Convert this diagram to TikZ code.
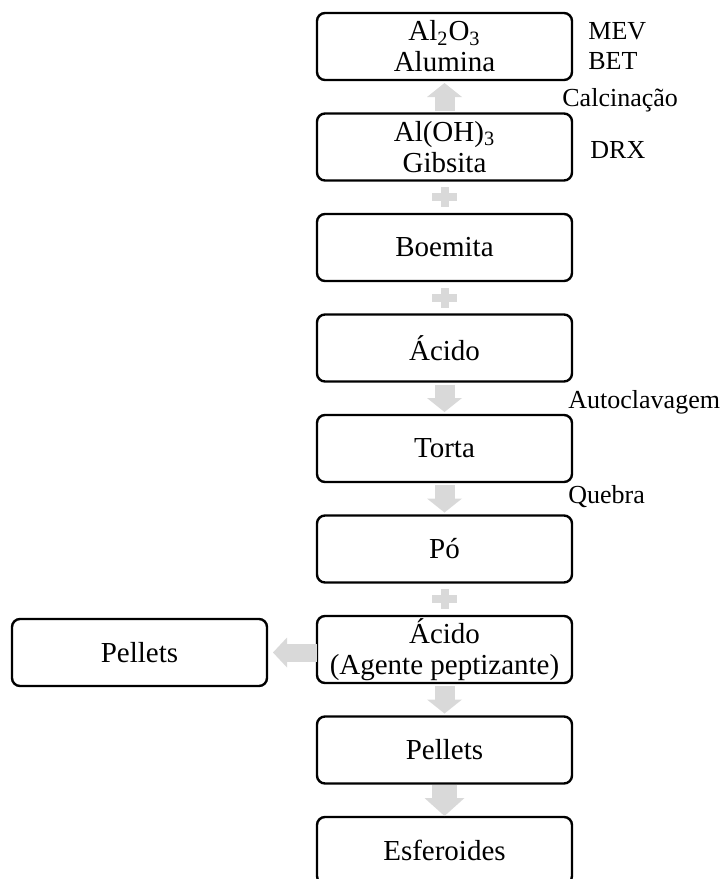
\documentclass[tikz,border=0pt]{standalone}
\usepackage{fontspec}
\setmainfont{Liberation Serif}
\usetikzlibrary{arrows.meta,positioning,calc}
\definecolor{flowgray}{HTML}{D9D9D9}

\begin{document}
\begin{tikzpicture}[node distance=16.75pt,
    box/.style={rectangle, rounded corners=4pt, draw, line width=1.2pt, outer sep=0pt, minimum width=127.5pt, minimum height=33.5pt, inner sep=1pt, align=center, font=\fontsize{14.5}{15.5}\selectfont},
    note/.style={inner sep=0pt, align=left, font=\fontsize{13}{15}\selectfont},
    flow/.style={draw=flowgray, line width=10pt, -{Triangle[length=7pt, width=17.5pt, line width=0pt]}, shorten <=1.5pt, shorten >=1.5pt},
    bigflow/.style={flow, line width=12.5pt, -{Triangle[length=9pt, width=20pt, line width=0pt]}, shorten <=0.5pt, shorten >=0.5pt},
    plussign/.pic={\fill[flowgray] (-6.25pt,-2pt) rectangle (6.25pt,2pt); \fill[flowgray] (-2pt,-5pt) rectangle (2pt,5pt);}
]
\useasboundingbox (0,0) rectangle (361pt,-439.5pt);

% Main column
\node[box] (alumina) at (222.25pt,-23.25pt) {Al\textsubscript{2}O\textsubscript{3}\\Alumina};
\node[box, below=of alumina] (gibsita) {Al(OH)\textsubscript{3}\\Gibsita};
\node[box, below=of gibsita] (boemita) {Boemita};
\node[box, below=of boemita] (acido) {Ácido};
\node[box, below=of acido] (torta) {Torta};
\node[box, below=of torta] (po) {Pó};
\node[box, below=of po] (peptizante) {Ácido\\(Agente peptizante)};
\node[box, below=of peptizante] (pellets) {Pellets};
\node[box, below=of pellets] (esferoides) {Esferoides};

% Side box
\node[box, left=25pt of peptizante, yshift=-1.5pt] (pelletsleft) {Pellets};

% Notes
\node[note, right=8pt of alumina] (mevbet) {MEV\\BET};
\node[note, right=9pt of gibsita, yshift=-1.5pt] (drx) {DRX};
\node[note, anchor=base west, xshift=-5pt, yshift=-4.75pt] (calcin) at ($(alumina.south east)!0.5!(gibsita.north east)$) {Calcinação};
\node[note, anchor=base west, xshift=-2pt, yshift=-5.25pt] (autoclav) at ($(acido.south east)!0.5!(torta.north east)$) {Autoclavagem};
\node[note, anchor=base west, xshift=-2pt, yshift=-2.25pt] (quebra) at ($(torta.south east)!0.5!(po.north east)$) {Quebra};

% Plus signs
\pic at ($(gibsita.south)!0.5!(boemita.north)$) {plussign};
\pic at ($(boemita.south)!0.5!(acido.north)$) {plussign};
\pic at ($(po.south)!0.5!(peptizante.north)$) {plussign};

% Arrows
\draw[flow] (gibsita) -- (alumina);
\draw[flow] (acido) -- (torta);
\draw[flow] (torta) -- (po);
\draw[flow] (peptizante) -- (pellets);
\draw[bigflow] (pellets) -- (esferoides);
\draw[flow, line width=9pt, -{Triangle[length=7pt, width=15pt, line width=0pt]}, shorten <=0pt, shorten >=3pt] (peptizante.west |- pelletsleft.east) -- (pelletsleft.east);

\end{tikzpicture}
\end{document}
